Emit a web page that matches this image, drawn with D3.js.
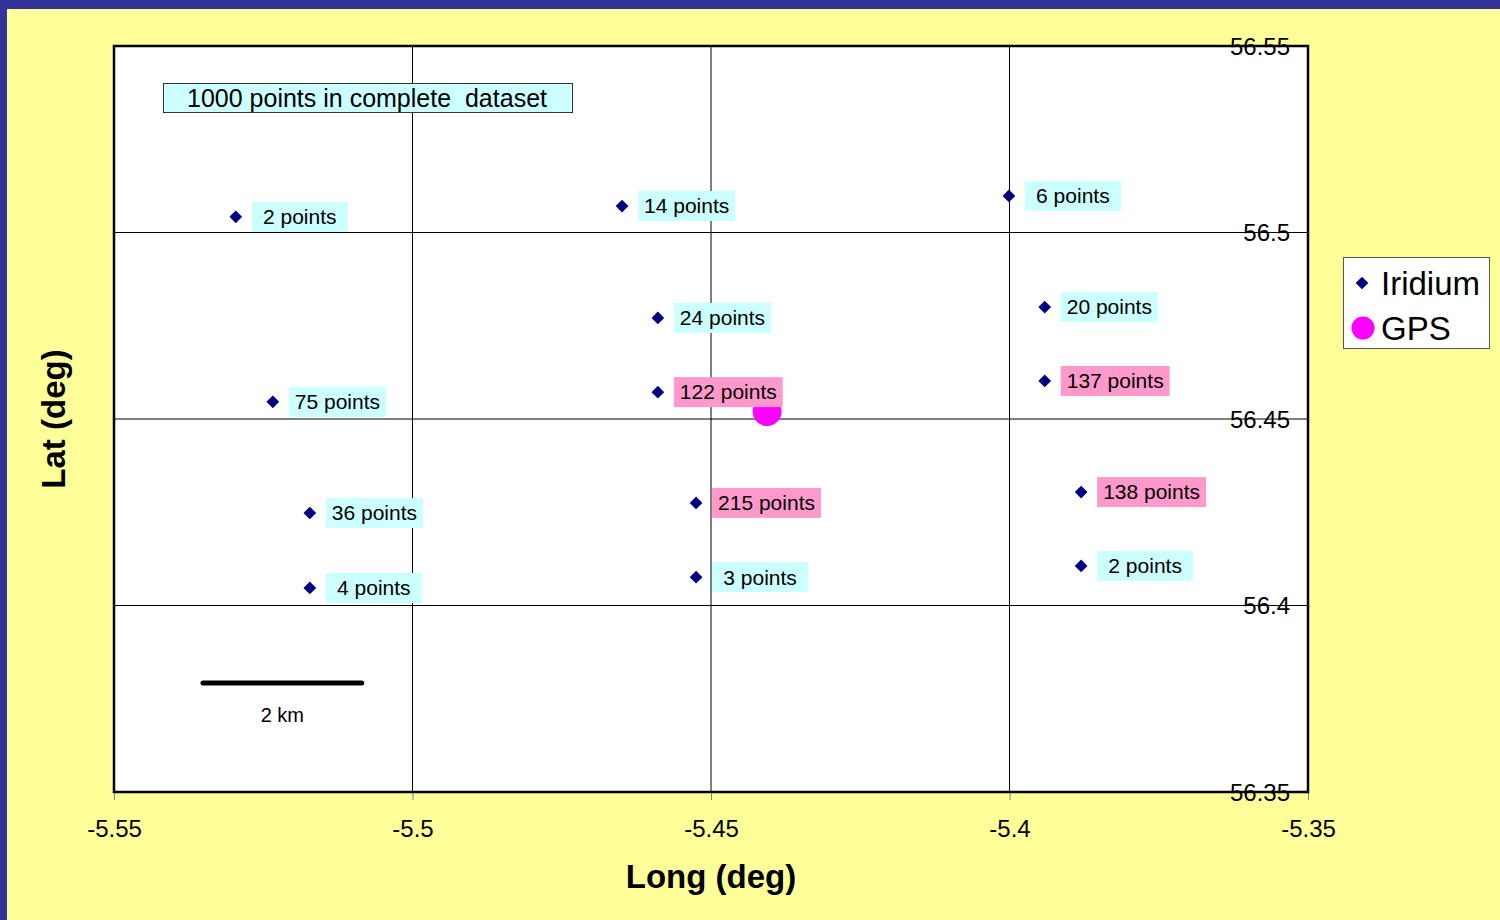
<!DOCTYPE html>
<html><head><meta charset="utf-8">
<script src="https://cdn.jsdelivr.net/npm/d3@7"></script>
<style>body{margin:0;padding:0;overflow:hidden;background:#FFFF99;} svg{display:block;font-family:"Liberation Sans",Arial,sans-serif;}</style>
</head><body>
<script>
// Data
const iridiumLon = [-5.5296, -5.4649, -5.4001, -5.3941, -5.4589, -5.4589, -5.3941, -5.5234, -5.5172, -5.4525, -5.3880, -5.5172, -5.4525, -5.3880];
const iridiumLat = [56.5042, 56.5071, 56.5098, 56.4800, 56.4771, 56.4572, 56.4602, 56.4546, 56.4248, 56.4275, 56.4304, 56.4047, 56.4076, 56.4106];
const iridiumCount = [2, 14, 6, 20, 24, 122, 137, 75, 36, 215, 138, 4, 3, 2];
const gpsLon = [-5.4406];
const gpsLat = [56.4520];
const xTicks = [-5.55, -5.5, -5.45, -5.4, -5.35];
const yTicks = [56.35, 56.4, 56.45, 56.5, 56.55];
const xTickLabels = ["-5.55", "-5.5", "-5.45", "-5.4", "-5.35"];
const yTickLabels = ["56.35", "56.4", "56.45", "56.5", "56.55"];
const scaleBarLon = [-5.5351, -5.5085];
const scaleBarLat = 56.3792;
const scaleBarLabel = "2 km";
const noteText = "1000 points in complete  dataset";
const xTitle = "Long (deg)";
const yTitle = "Lat (deg)";
const seriesNames = ["Iridium", "GPS"];
const highlightThreshold = 100;

const W = 1500, H = 920;
const svg = d3.select("body").append("svg").attr("width", W).attr("height", H);

// frame
svg.append("rect").attr("x",0).attr("y",0).attr("width",W).attr("height",H).attr("fill","#333399");
svg.append("rect").attr("x",7).attr("y",9).attr("width",W-7).attr("height",H-9).attr("fill","#FFFF99");

const L = 114, R = 1308, T = 46, B = 792;
const x = d3.scaleLinear().domain([-5.55, -5.35]).range([L, R]);
const y = d3.scaleLinear().domain([56.35, 56.55]).range([B, T]);

svg.append("rect").attr("x",L).attr("y",T).attr("width",R-L).attr("height",B-T).attr("fill","#fff");

// gridlines
const g = svg.append("g");
xTicks.slice(1,-1).forEach(v => g.append("line").attr("x1",x(v)).attr("x2",x(v)).attr("y1",T).attr("y2",B).attr("stroke","#000").attr("stroke-width",1));
yTicks.slice(1,-1).forEach(v => g.append("line").attr("x1",L).attr("x2",R).attr("y1",y(v)).attr("y2",y(v)).attr("stroke","#000").attr("stroke-width",1));

// x axis ticks below
const xAxis = d3.axisBottom(x).tickValues(xTicks).tickSize(8).tickFormat((d,i)=>xTickLabels[i]);
const xa = svg.append("g").attr("transform",`translate(0,${B})`).call(xAxis);
xa.select(".domain").remove();
xa.selectAll(".tick line").attr("stroke","#808080");
xa.selectAll(".tick text").attr("font-size",24).attr("fill","#000").attr("font-family","Liberation Sans, Arial, sans-serif").attr("y",36).attr("dy","0.36em").attr("dominant-baseline",null);

// y labels inside right, centred on lines
const ya = svg.append("g");
yTicks.forEach((v,i)=>{
  ya.append("text").attr("x",1290).attr("y",y(v)).attr("dy","0.36em").attr("text-anchor","end")
    .attr("font-size",24).attr("fill","#000").text(yTickLabels[i]);
});

// scale bar
svg.append("line").attr("x1",x(scaleBarLon[0])).attr("x2",x(scaleBarLon[1])).attr("y1",y(scaleBarLat)).attr("y2",y(scaleBarLat))
  .attr("stroke","#000").attr("stroke-width",5).attr("stroke-linecap","round");
svg.append("text").attr("x",(x(scaleBarLon[0])+x(scaleBarLon[1]))/2).attr("y",y(scaleBarLat)+39).attr("text-anchor","middle")
  .attr("font-size",20).attr("fill","#000").text(scaleBarLabel);

// GPS
svg.selectAll("circle.gps").data(gpsLon).enter().append("circle").attr("class","gps")
  .attr("cx",(d)=>x(d)).attr("cy",(d,i)=>y(gpsLat[i])).attr("r",14.5).attr("fill","#FF00FF");

// Iridium markers
iridiumLon.forEach((lon,i)=>{
  const px = x(lon), py = y(iridiumLat[i]);
  svg.append("rect").attr("x",px-4.5).attr("y",py-4.5).attr("width",9).attr("height",9)
    .attr("transform",`rotate(45,${px},${py})`).attr("fill","#000080");
});

// labels
iridiumLon.forEach((lon,i)=>{
  const px = x(lon), py = y(iridiumLat[i]);
  const lg = svg.append("g");
  const t = lg.append("text").attr("font-size",21).attr("fill","#000").text(iridiumCount[i] + " points");
  const tw = t.node().getComputedTextLength();
  const bw = Math.max(tw + 12, 96), bh = 30;
  const bx = px + 16, by = py - bh/2;
  lg.insert("rect","text").attr("x",bx).attr("y",by).attr("width",bw).attr("height",bh)
    .attr("fill", iridiumCount[i] > highlightThreshold ? "#FF99CC" : "#CCFFFF");
  t.attr("x",bx+bw/2).attr("y",py).attr("dy","0.35em").attr("text-anchor","middle");
});

// note box
svg.append("rect").attr("x",163.5).attr("y",83.5).attr("width",409).attr("height",29).attr("fill","#CCFFFF").attr("stroke","#333").attr("stroke-width",1);
svg.append("text").attr("x",367).attr("y",98).attr("dy","0.36em").attr("text-anchor","middle").attr("font-size",25).attr("fill","#000").attr("style","white-space:pre").text(noteText);

// plot border
svg.append("rect").attr("x",L).attr("y",T).attr("width",R-L).attr("height",B-T).attr("fill","none").attr("stroke","#000").attr("stroke-width",2.5);

// axis titles
svg.append("text").attr("x",(L+R)/2).attr("y",888).attr("text-anchor","middle").attr("font-size",33).attr("font-weight","bold").attr("fill","#000").text(xTitle);
svg.append("text").attr("transform",`translate(65,${(T+B)/2}) rotate(-90)`).attr("text-anchor","middle").attr("font-size",33).attr("font-weight","bold").attr("fill","#000").text(yTitle);

// legend
const lgd = svg.append("g");
lgd.append("rect").attr("x",1343.5).attr("y",257.5).attr("width",146).attr("height",91).attr("fill","#fff").attr("stroke","#555").attr("stroke-width",1);
lgd.append("rect").attr("x",1362-4.5).attr("y",283-4.5).attr("width",9).attr("height",9).attr("transform","rotate(45,1362,283)").attr("fill","#000080");
lgd.append("text").attr("x",1381).attr("y",283).attr("dy","0.36em").attr("font-size",33).attr("fill","#000").text(seriesNames[0]);
lgd.append("circle").attr("cx",1363).attr("cy",328).attr("r",11.5).attr("fill","#FF00FF");
lgd.append("text").attr("x",1381).attr("y",328).attr("dy","0.36em").attr("font-size",33).attr("fill","#000").text(seriesNames[1]);
</script>
</body></html>
